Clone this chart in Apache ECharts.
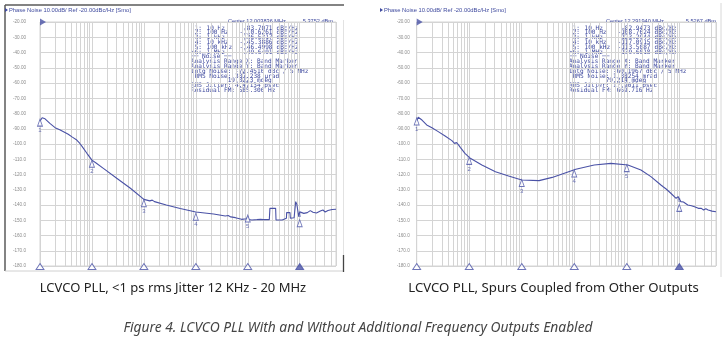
<!DOCTYPE html>
<html><head><meta charset="utf-8">
<script src="https://cdn.jsdelivr.net/npm/echarts@6/dist/echarts.min.js"></script>
<style>html,body{margin:0;padding:0;background:#fff;}#c{width:725px;height:344px;}</style>
</head><body><div id="c"></div>
<script>
// ---------- DATA ----------
const leftFreq = [10,11,12,12.5,13,15.5,19.5,24,26,35,42,51,58,65,80,100,120,166,300,550,1000,1300,1450,1600,2700,5000,10000,22000,37000,42000,47000,58000,76000,95000,100000,105000,120000,150000,175000,200000,260000,267000,344000,350000,460000,463000,555000,561000,650000,660000,780000,837000,880000,960000,1000000,1050000,1200000,1400000,1600000,1800000,2100000,2500000,2800000,3100000,3500000,4200000,5000000];
const leftDb   = [-85.0,-82.8,-82.6,-83.5,-84.5,-86.5,-89.3,-90.6,-91.2,-93.6,-95.5,-97.4,-99.5,-101.7,-106.1,-110.6,-112.5,-116,-122.5,-129,-136.3,-137.3,-136.8,-137.8,-140,-142.3,-144.6,-145.9,-147.2,-146.9,-147.8,-148.3,-149.4,-149.0,-147.5,-149.5,-149.8,-149.6,-149.4,-149.6,-149.6,-142.2,-142.2,-149.8,-149.8,-148.7,-148.7,-145,-145,-148.7,-148.4,-137.8,-139.5,-147.7,-144.5,-144.4,-145.5,-145,-143.7,-144.8,-145.3,-144,-143.3,-144.6,-143.6,-143,-142.8];
const rightFreq = [10,10.7,12.6,15.5,19.5,25.7,34.7,46.8,52.5,57.5,63,67.6,83,105,174,316,562,1000,2140,3800,6900,10700,24000,50000,105000,186000,288000,447000,500000,530000,562000,690000,870000,950000,1070000,1200000,1300000,1450000,1700000,1950000,2100000,2300000,2630000,2900000,3200000,3550000,4200000,5000000];
const rightDb   = [-85.0,-82.5,-84.3,-87.5,-89.3,-91.9,-94.8,-97.8,-99.6,-99.1,-100.7,-102.2,-106.1,-109.4,-113.8,-118.2,-121,-123.6,-124,-121.9,-118.8,-116.6,-113.8,-112.7,-113.8,-117,-121.4,-126.9,-128.2,-127.8,-129.5,-132.3,-135.6,-134.5,-137.8,-138,-137.2,-140,-140.5,-141.1,-140.6,-142.2,-142.2,-143.3,-142.5,-143.3,-144,-144.4];
const markerFreq = [10,100,1000,10000,100000,1000000];
const markerFreqText = ['10 Hz','100 Hz','1 kHz','10 kHz','100 kHz','1 MHz'];
const leftMarkerDb  = [-83.7071,-110.6261,-136.5317,-145.3886,-146.4998,-149.6491];
const rightMarkerDb = [-82.9473,-108.7624,-123.2944,-117.0915,-113.5087,-139.6018];
const decades = [10,100,1000,10000,100000,1000000];
const minorMult = [2,3,4,5,6,7,8,9];
const xMin = 10, xMax = 5000000;
const yMin = -180, yMax = -20, yStep = 10;
const headerText = 'Phase Noise 10.00dB/ Ref -20.00dBc/Hz [Smo]';
const leftCenter = ['Center 12.003836 MHz','5.3752 dBm'];
const rightCenter = ['Center 12.291940 MHz','5.5267 dBm'];
const leftNoise = ['Intg Noise: -72.4516 dBc / 5 MHz','RMS Noise: 337.238 µrad','19.3223 mdeg','RMS Jitter: 4.47134 psec','Residual FM: 585.306 Hz'];
const rightNoise = ['Intg Noise: -60.1967 dBc / 5 MHz','RMS Noise: 1.38254 mrad','79.214 mdeg','RMS Jitter: 17.9011 psec','Residual FM: 669.716 Hz'];
const captions = ['LCVCO PLL, <1 ps rms Jitter 12 KHz - 20 MHz','LCVCO PLL, Spurs Coupled from Other Outputs'];
const figCaption = 'Figure 4. LCVCO PLL With and Without Additional Frequency Outputs Enabled';

// ---------- STYLE ----------
const BLUE = '#4a52a6';
const TXT = '#3f4a9e';
const GRIDC = '#d4d4d4';
const MONO = '6.1px "DejaVu Sans Mono", monospace';

const minorFreqs = [];
decades.forEach(d => minorMult.forEach(m => { const f = d*m; if (f < xMax) minorFreqs.push(f); }));

const grids = [
  {left:40, top:22, width:296, height:244},
  {left:416.7, top:22, width:299.3, height:244}
];
const xAxes = [], yAxes = [], series = [];
const margins = [14, 7];
[[leftFreq,leftDb,leftMarkerDb],[rightFreq,rightDb,rightMarkerDb]].forEach((p, i) => {
  xAxes.push({type:'log', logBase:10, min:xMin, max:xMax, gridIndex:i,
    axisLine:{show:false}, axisTick:{show:false}, axisLabel:{show:false},
    splitLine:{show:true, lineStyle:{color:GRIDC, width:1}}});
  yAxes.push({type:'value', min:yMin, max:yMax, interval:yStep, gridIndex:i,
    axisLine:{show:false}, axisTick:{show:false},
    axisLabel:{fontSize:4.6, color:'#8c8c8c', fontFamily:'Liberation Sans', margin:margins[i],
      formatter: v => v > -100 ? v.toFixed(2) : v.toFixed(1)},
    splitLine:{show:true, lineStyle:{color:GRIDC, width:1}}});
  series.push({type:'line', xAxisIndex:i, yAxisIndex:i, showSymbol:false, z:3,
    data: p[0].map((f,k) => [f, p[1][k]]),
    lineStyle:{color:BLUE, width:1.1}, itemStyle:{color:BLUE}, animation:false,
    markLine:{z:1, silent:true, symbol:['none','none'], animation:false,
      label:{show:false}, lineStyle:{color:GRIDC, type:'solid', width:1},
      data: minorFreqs.map(f => ({xAxis:f}))}});
  series.push({type:'scatter', xAxisIndex:i, yAxisIndex:i, clip:false, z:4, animation:false,
    data: markerFreq.map((f,k) => ({value:[f, p[2][k]], label:{position: k===5 ? 'top' : 'bottom'}})),
    symbol:'triangle', symbolSize:[5,7], symbolOffset:[0,3.5],
    itemStyle:{color:'#fff', borderColor:BLUE, borderWidth:0.9},
    label:{show:true, formatter: q => String(q.dataIndex+1), fontSize:6, color:BLUE, distance:1, fontFamily:'Liberation Sans'}});
  series.push({type:'scatter', xAxisIndex:i, yAxisIndex:i, clip:false, z:4, animation:false,
    data: markerFreq.map((f,k) => ({value:[f, yMin], itemStyle: k===5 ? {color:BLUE} : {}})),
    symbol:'triangle', symbolSize:[8,6], symbolOffset:[0,0.5],
    itemStyle:{color:'#fff', borderColor:BLUE, borderWidth:0.9}});
  series.push({type:'scatter', xAxisIndex:i, yAxisIndex:i, clip:false, z:4, animation:false,
    data:[[xMin, yMax]], symbol:'triangle', symbolSize:[7,6], symbolRotate:-90, symbolOffset:[3,0],
    itemStyle:{color:BLUE}});
});

// ---------- TEXT GRAPHICS ----------
const g = [];
function txt(s, x, y, font, fill, align) {
  g.push({type:'text', silent:true, style:{text:s, x:x, y:y, font:font, fill:fill, textAlign:align||'left', textVerticalAlign:'middle'}});
}
function line(x1,y1,x2,y2,c,w){ g.push({type:'line', silent:true, shape:{x1,y1,x2,y2}, style:{stroke:c, lineWidth:w}}); }

// panel frames
line(5,5,344,5,'#5a5a5a',1.5);
line(5,5,5,271,'#5a5a5a',1.5);
line(5,271,344,271,'#d0d0d0',1);
line(343.5,20,343.5,255,'#e2e2e2',1);
line(343.5,255,343.5,272,'#444',1.3);
line(721,3,721,277,'#d8d8d8',1);

const dxs = [0, 378];
const dbmRight = [333, 716];
[[leftCenter,leftMarkerDb,leftNoise],[rightCenter,rightMarkerDb,rightNoise]].forEach((p, i) => {
  const dx = dxs[i];
  const hx = [8, 383][i];
  g.push({type:'polygon', silent:true, shape:{points:[[hx-3,8],[hx,10],[hx-3,12]]}, style:{fill:TXT}});
  txt(headerText, hx+1, 10, '5.8px "Liberation Sans"', TXT);
  txt(p[0][0], 228+dx, 21, '5.6px "Liberation Sans"', TXT);
  txt(p[0][1], dbmRight[i], 21, '5.6px "Liberation Sans"', TXT, 'right');
  const y0 = 28, dy = 4.8;
  for (let k = 0; k < 6; k++) {
    const y = y0 + k*dy;
    txt((k===5 ? '>' : '') + (k+1) + ':', 202+dx, y, MONO, TXT, 'right');
    txt(markerFreqText[k], 206.5+dx, y, MONO, TXT);
    txt(p[1][k].toFixed(4), 272.5+dx, y, MONO, TXT, 'right');
    txt('dBc/Hz', 276.5+dx, y, MONO, TXT);
  }
  const bx = 191 + dx;
  txt('\u2500\u2500 Noise \u2500\u2500', bx, y0+6*dy, MONO, TXT);
  txt('Analysis Range X: Band Marker', bx, y0+7*dy, MONO, TXT);
  txt('Analysis Range Y: Band Marker', bx, y0+8*dy, MONO, TXT);
  txt(p[2][0], bx, y0+9*dy, MONO, TXT);
  txt(p[2][1], bx+3.7, y0+10*dy, MONO, TXT);
  txt(p[2][2], bx+36.7, y0+11*dy, MONO, TXT);
  txt(p[2][3], bx, y0+12*dy, MONO, TXT);
  txt(p[2][4], bx, y0+13*dy, MONO, TXT);
});

txt(captions[0], 173, 288, '13px "Noto Sans"', '#222', 'center');
txt(captions[1], 553.5, 288, '13.2px "Noto Sans"', '#222', 'center');
txt(figCaption, 358, 328, 'italic 13.8px "Noto Sans"', '#444', 'center');

const chart = echarts.init(document.getElementById('c'), null, {renderer:'canvas'});
chart.setOption({
  animation:false,
  backgroundColor:'#fff',
  grid: grids.map(gr => Object.assign({show:true, borderColor:GRIDC, borderWidth:1, containLabel:false}, gr)),
  xAxis: xAxes, yAxis: yAxes, series: series,
  graphic: g
});
</script></body></html>
